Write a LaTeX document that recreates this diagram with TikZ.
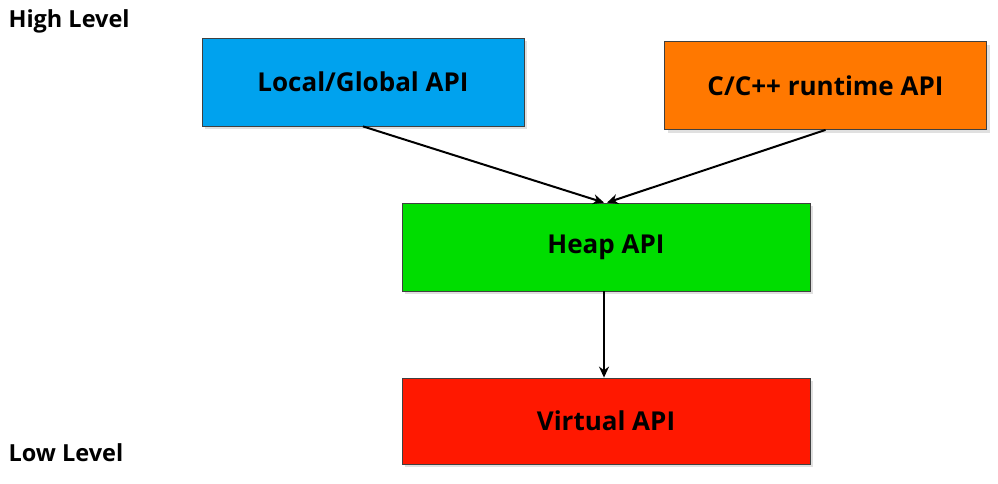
\documentclass[tikz,border=0pt]{standalone}
\usepackage{fontspec}
\setmainfont{Open Sans}
\usetikzlibrary{arrows.meta, shadows}
\definecolor{ApiBlue}{HTML}{00A2EE}
\definecolor{ApiOrange}{HTML}{FF7800}
\definecolor{ApiGreen}{HTML}{00DD00}
\definecolor{ApiRed}{HTML}{FF1800}

\begin{document}
\begin{tikzpicture}[x=1pt, y=-1pt, font=\bfseries\fontsize{26}{30}\selectfont,
    apibox/.style={draw=black!75, line width=0.8pt, minimum width=322pt, minimum height=88pt, inner sep=0pt,
        drop shadow={shadow xshift=3pt, shadow yshift=-3pt, fill=black!12, opacity=1}}]
                \useasboundingbox (0,0) rectangle (998,483);
                \node[anchor=west, font=\bfseries\fontsize{23.5}{27}\selectfont] (high) at (5,21) {High Level};
                \node[anchor=west, font=\bfseries\fontsize{23.5}{27}\selectfont] (low) at (5,453) {Low Level};
                \node[apibox, fill=ApiBlue] (local) at (363,82) {Local/Global API};
                \node[apibox, fill=ApiOrange] (crt) at (825.5,85.5) {C/C++ runtime API};
                \node[apibox, fill=ApiGreen, minimum width=408pt] (heap) at (606,247) {Heap API};
                \node[apibox, fill=ApiRed, minimum width=408pt, minimum height=86pt] (virtual) at (606,421) {Virtual API};
                
                \draw[-{Stealth[length=11pt, width=10pt]}, line width=2pt] (local.south) -- ([xshift=-2pt]heap.north);
                \draw[-{Stealth[length=11pt, width=10pt]}, line width=2pt] (crt.south) -- ([xshift=1pt]heap.north);
                \draw[-{Stealth[length=11pt, width=10pt]}, line width=2pt] ([xshift=-2pt]heap.south) -- ([xshift=-2pt]virtual.north);
            \end{tikzpicture}
\end{document}
